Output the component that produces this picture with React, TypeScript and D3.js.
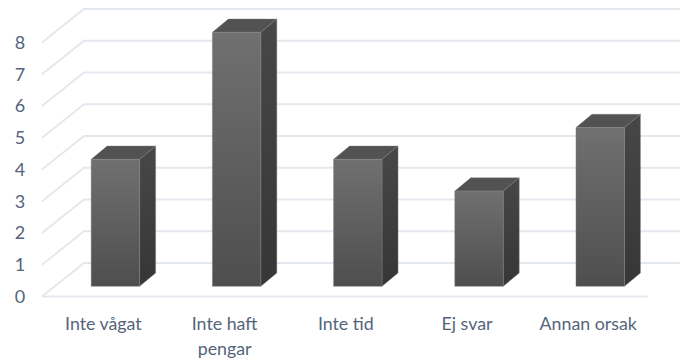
import React from "react";
import * as d3 from "d3";

const categories = ["Inte vågat", "Inte haft pengar", "Inte tid", "Ej svar", "Annan orsak"];
const values = [4, 8, 4, 3, 5];
const yTicks = [0, 1, 2, 3, 4, 5, 6, 7, 8];

const W = 680;
const H = 364;
const floorLeft = 42;
const floorRight = 648;
const floorFront = 296.5;
const wallDx = 42;
const wallDy = 33.5;
const barInsetX = 12.8;
const barBase = 286.3;
const barDepthX = 16;
const barDepthY = 13.3;
const unit = 31.75;
const gridColor = "#e3e7ee";
const textColor = "#55647b";
const labelFont = "Lato, sans-serif";

const x = d3.scaleBand<string>().domain(categories).range([floorLeft, floorRight]).paddingInner(0.6).paddingOuter(0.3);
const yFront = d3.scaleLinear().domain([0, 8]).range([floorFront, floorFront - 8 * unit]);
const yBar = d3.scaleLinear().domain([0, 8]).range([barBase, barBase - 8 * unit]);

const path = d3.line();

// Wrap only the one long category onto two lines, as the plot width requires.
const wrapLabel = (s: string): string[] => (s === "Inte haft pengar" ? ["Inte haft", "pengar"] : [s]);

export default function App() {
  const bw = x.bandwidth();
  return (
    <svg
      width={W}
      height={H}
      viewBox={`0 0 ${W} ${H}`}
      style={{ position: "absolute", left: 0, top: 0, background: "#fff" }}
    >
      <defs>
        <linearGradient id="front" x1="0" y1="0" x2="0" y2="1">
          <stop offset="0" stopColor="#707070" />
          <stop offset="1" stopColor="#4e4e4e" />
        </linearGradient>
        <linearGradient id="side" x1="0" y1="0" x2="0" y2="1">
          <stop offset="0" stopColor="#474747" />
          <stop offset="1" stopColor="#363636" />
        </linearGradient>
      </defs>

      {/* Back wall gridlines and their diagonal run down the side wall */}
      {yTicks.map((t) => {
        const yf = yFront(t);
        const yb = yf - wallDy;
        return (
          <g key={t}>
            <path
              d={path([[floorLeft, yf], [floorLeft + wallDx, yb], [W + 10, yb]]) ?? ""}
              fill="none"
              stroke={gridColor}
              strokeWidth={1.8}
            />
            <text
              x={floorLeft - 22}
              y={yf}
              dy="0.36em"
              textAnchor="middle"
              fontFamily={labelFont}
              fontSize={18}
              fill={textColor}
            >
              {t}
            </text>
          </g>
        );
      })}
      {/* Front edge of the floor */}
      <line x1={floorLeft} x2={floorRight} y1={floorFront} y2={floorFront} stroke={gridColor} strokeWidth={1.8} />

      {/* Extruded bars: top, side, then front face */}
      {categories.map((c, i) => {
        const x0 = (x(c) ?? 0) + barInsetX;
        const x1 = x0 + bw;
        const top = yBar(values[i]);
        const top3d = path([
          [x0, top],
          [x0 + barDepthX, top - barDepthY],
          [x1 + barDepthX, top - barDepthY],
          [x1, top],
        ]);
        const side = path([
          [x1, top],
          [x1 + barDepthX, top - barDepthY],
          [x1 + barDepthX, barBase - barDepthY],
          [x1, barBase],
        ]);
        return (
          <g key={c} stroke="#808080" strokeWidth={0.4} strokeLinejoin="round">
            <path d={(top3d ?? "") + "Z"} fill="#525252" />
            <path d={(side ?? "") + "Z"} fill="url(#side)" />
            <rect x={x0} y={top} width={bw} height={barBase - top} fill="url(#front)" />
          </g>
        );
      })}

      {/* Category labels */}
      {categories.map((c) => (
        <text
          key={c}
          x={(x(c) ?? 0) + bw / 2 + 0.8}
          y={330}
          textAnchor="middle"
          fontFamily={labelFont}
          fontSize={17.8}
          fill={textColor}
        >
          {wrapLabel(c).map((ln, j) => (
            <tspan key={ln} x={(x(c) ?? 0) + bw / 2 + 0.8} dy={j === 0 ? 0 : 25}>
              {ln}
            </tspan>
          ))}
        </text>
      ))}
    </svg>
  );
}
